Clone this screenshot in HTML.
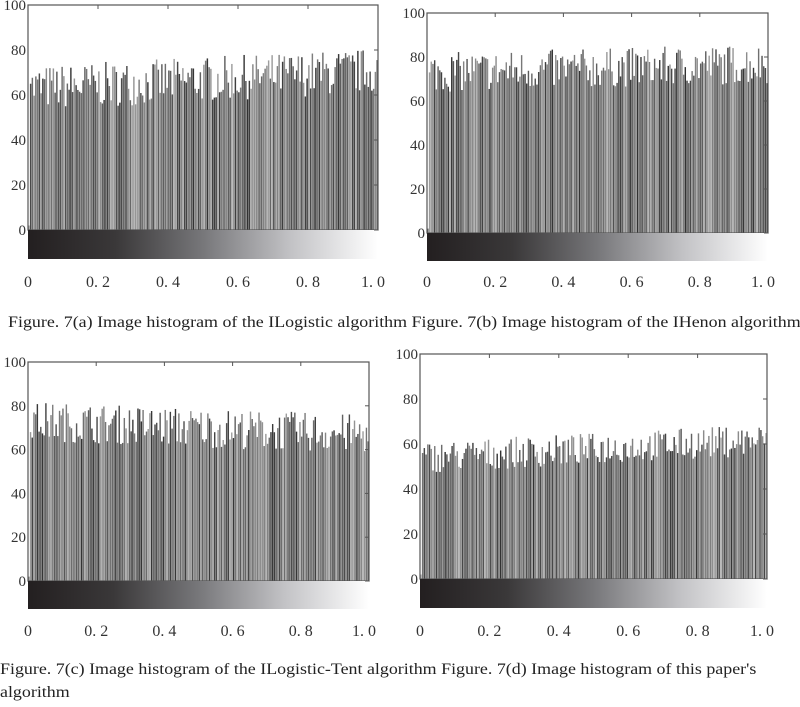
<!DOCTYPE html>
<html><head><meta charset="utf-8"><style>
body{margin:0;background:#fff;width:800px;height:707px;overflow:hidden;font-family:"Liberation Serif",serif;}
svg{position:absolute;left:0;top:0}
.cap{position:absolute;font-size:15.5px;color:#222;white-space:nowrap;font-family:"Liberation Serif",serif;transform-origin:0 0;transform:scaleX(1.156);}
</style></head><body>
<svg id="s" width="800" height="707" xmlns="http://www.w3.org/2000/svg">
<defs><linearGradient id="g" x1="0" x2="1" y1="0" y2="0">
<stop offset="0" stop-color="#231f20"/><stop offset="0.25" stop-color="#3a3839"/><stop offset="0.5" stop-color="#77777a"/><stop offset="0.75" stop-color="#c2c2c5"/><stop offset="1" stop-color="#ffffff"/></linearGradient></defs>
</svg>
<div class="cap" style="left:8px;top:314px">Figure. 7(a) Image histogram of the ILogistic algorithm Figure. 7(b) Image histogram of the IHenon algorithm</div>
<div class="cap" style="left:0px;top:661px">Figure. 7(c) Image histogram of the ILogistic-Tent algorithm Figure. 7(d) Image histogram of this paper's</div>
<div class="cap" style="left:0px;top:684px">algorithm</div>
<script>
var s=document.getElementById('s'),NS='http://www.w3.org/2000/svg';
function el(t,a,txt){var e=document.createElementNS(NS,t);for(var k in a)e.setAttribute(k,a[k]);if(txt!==undefined)e.textContent=txt;s.appendChild(e);return e;}
var seed=7;function rnd(){seed=(seed*16807)%2147483647;return seed/2147483647;}
function panel(L,R,T,Z,B,LY,base,amp,trend){
 var h=(Z-T)/100;
 var n=200,w=(R-L)/n;
 for(var i=0;i<n;i++){
  var v=base+trend*(i/n-0.5)*2+(rnd()-0.5)*amp*2;
  if(i==0)v=2; if(i==1)v=base-2;
  var c=Math.floor(50+rnd()*110);
  el('rect',{x:L+i*w+0.15,y:Z-v*h,width:Math.max(w-0.3,0.8),height:v*h,fill:'rgb('+c+','+c+','+c+')'});
 }
 el('rect',{x:L,y:T,width:R-L,height:Z-T,fill:'none',stroke:'#555','stroke-width':1.2});
 el('rect',{x:L,y:Z,width:R-L,height:B-Z,fill:'url(#g)'});
 for(var k=0;k<=5;k++){
  var y=Z-k*20*h;
  el('text',{x:L-2,y:y+5,'text-anchor':'end','font-size':15,fill:'#333','font-family':'Liberation Serif'},String(k*20));
  el('line',{x1:R-4,x2:R,y1:y,y2:y,stroke:'#555'});
 }
 var labs=['0','0. 2','0. 4','0. 6','0. 8','1. 0'];
 for(var k=0;k<6;k++){
  var x=L+(R-L)*k/5;
  el('text',{x:x+(k==5?-5:0),y:LY,'text-anchor':'middle','font-size':16,fill:'#333','font-family':'Liberation Serif'},labs[k]);
  el('line',{x1:x,x2:x,y1:T,y2:T+4,stroke:'#555'});
 }
}
panel(28,378,5,230,259,287,67,10,4);
panel(427,768,13,233,261,287,75,9,2);
panel(28,369,362,581,609,636,70,9,-3);
panel(420,767,354,579,608,636,58,7,4);
</script>
</body></html>
